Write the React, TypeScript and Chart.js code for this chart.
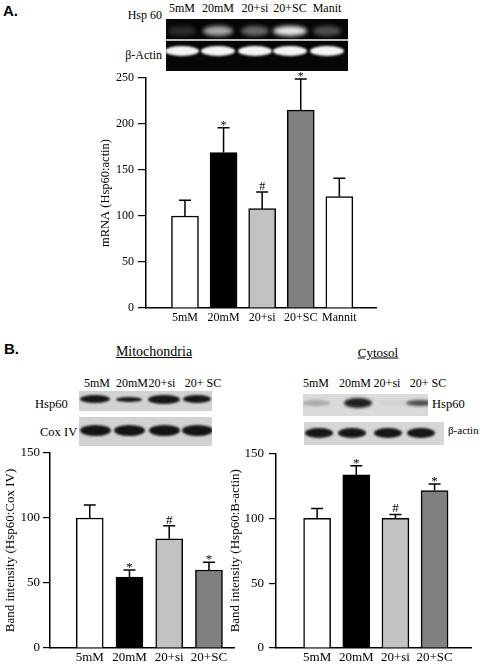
import React, { useEffect, useRef } from "react";
import { Chart, registerables } from "chart.js";
Chart.register(...registerables);

// ---------- data ----------
const CATS_A = ["5mM", "20mM", "20+si", "20+SC", "Mannit"];
const MEAN_A = [100, 169, 108, 215, 121];
const ERR_A = [117, 196, 126, 249, 141];
const MARK_A = ["", "*", "#", "*", ""];
const TICKS_A = [0, 50, 100, 150, 200, 250];

const CATS_B = ["5mM", "20mM", "20+si", "20+SC"];
const MEAN_MITO = [100, 54.5, 84, 60];
const ERR_MITO = [110, 60, 94, 66];
const MARK_MITO = ["", "*", "#", "*"];
const MEAN_CYTO = [100, 133.5, 100, 121.5];
const ERR_CYTO = [107.5, 140.5, 103, 126.5];
const MARK_CYTO = ["", "*", "#", "*"];
const TICKS_B = [0, 50, 100, 150];

const BLOT_A_LANES = ["5mM", "20mM", "20+si", "20+SC", "Manit"];
const BLOT_MITO_LANES = ["5mM", "20mM", "20+si", "20+ SC"];
const BLOT_CYTO_LANES = ["5mM", "20mM", "20+si", "20+ SC"];

const FILLS_A = ["#ffffff", "#000000", "#c2c2c2", "#808080", "#ffffff"];
const FILLS_B = ["#ffffff", "#000000", "#c2c2c2", "#808080"];

const SERIF = '"Liberation Serif", "Times New Roman", serif';
const SANS = '"Liberation Sans", Arial, sans-serif';

type PanelProps = {
  left: number; top: number; width: number; height: number;
  cats: string[]; means: number[]; errs: number[]; marks: string[]; fills: string[];
  yTicks: number[]; xMin: number; xMax: number; yTitle: string;
  padTop: number; padRight: number; yWidth: number; xHeight: number;
  tickFont: number; titleFont: number; tickLen: number; tickPad: number; xPad: number;
};

function BarPanel(p: PanelProps) {
  const ref = useRef<HTMLCanvasElement>(null);
  useEffect(() => {
    const errPlugin = {
      id: "errbars",
      afterDatasetsDraw(chart: any) {
        const c = chart.ctx;
        const meta = chart.getDatasetMeta(0);
        const ys = chart.scales.y;
        c.save();
        c.strokeStyle = "#000";
        c.lineWidth = 1.5;
        meta.data.forEach((bar: any, i: number) => {
          const x = bar.x;
          const y0 = bar.y;
          const y1 = ys.getPixelForValue(p.errs[i]);
          c.beginPath();
          c.moveTo(x, y0);
          c.lineTo(x, y1);
          c.moveTo(x - 6, y1);
          c.lineTo(x + 6, y1);
          c.stroke();
          const m = p.marks[i];
          if (m) {
            c.fillStyle = "#000";
            c.font = `${p.tickFont}px ${SERIF}`;
            c.textAlign = "center";
            c.textBaseline = "alphabetic";
            c.fillText(m, x, m === "*" ? y1 + 1 : y1 - 2);
          }
        });
        c.restore();
      },
    };
    const chart = new Chart(ref.current!, {
      type: "bar",
      data: {
        datasets: [
          {
            data: p.means.map((v, i) => ({ x: i, y: v })),
            backgroundColor: p.fills,
            borderColor: "#000",
            borderWidth: 1.5,
            barThickness: 27,
          } as any,
        ],
      },
      options: {
        animation: false,
        responsive: false,
        devicePixelRatio: 1,
        layout: { padding: { top: p.padTop, right: p.padRight, left: 0, bottom: 0 } },
        plugins: { legend: { display: false }, tooltip: { enabled: false } },
        scales: {
          x: {
            type: "linear",
            offset: false,
            min: p.xMin,
            max: p.xMax,
            grid: { display: false, drawTicks: false, offset: false },
            border: { display: true, color: "#000", width: 1.5 },
            afterBuildTicks: (s: any) => {
              s.ticks = p.cats.map((_, i) => ({ value: i }));
            },
            afterFit: (s: any) => {
              s.height = p.xHeight;
              s.paddingLeft = 0;
              s.paddingRight = 0;
            },
            ticks: {
              callback: (v: any) => p.cats[v] ?? "",
              color: "#000",
              font: { family: SERIF, size: p.tickFont },
              padding: p.xPad,
              maxRotation: 0,
              minRotation: 0,
              autoSkip: false,
            },
          },
          y: {
            min: 0,
            max: p.yTicks[p.yTicks.length - 1],
            afterBuildTicks: (s: any) => {
              s.ticks = p.yTicks.map((v) => ({ value: v }));
            },
            afterFit: (s: any) => {
              s.width = p.yWidth;
            },
            grid: { drawOnChartArea: false, drawTicks: true, tickLength: p.tickLen, color: "#000", lineWidth: 1.2 },
            border: { display: true, color: "#000", width: 1.5 },
            ticks: {
              color: "#000",
              font: { family: SERIF, size: p.tickFont },
              padding: p.tickPad,
            },
            title: {
              display: true,
              text: p.yTitle,
              color: "#000",
              font: { family: SERIF, size: p.titleFont },
              padding: 0,
            },
          },
        },
      } as any,
      plugins: [errPlugin],
    });
    return () => chart.destroy();
  }, []);
  return (
    <div style={{ position: "absolute", left: p.left, top: p.top, width: p.width, height: p.height }}>
      <canvas ref={ref} width={p.width} height={p.height} style={{ display: "block" }} />
    </div>
  );
}

function Txt(props: {
  x: number; y: number; text: string; size: number; align?: "left" | "center" | "right";
  bold?: boolean; family?: string; underline?: boolean;
}) {
  const a = props.align ?? "center";
  const tx = a === "center" ? "-50%" : a === "right" ? "-100%" : "0";
  return (
    <div
      style={{
        position: "absolute",
        left: props.x,
        top: props.y,
        transform: `translate(${tx}, -50%)`,
        fontFamily: props.family ?? SERIF,
        fontSize: props.size,
        fontWeight: props.bold ? "bold" : "normal",
        textDecoration: props.underline ? "underline" : "none",
        lineHeight: 1,
        whiteSpace: "nowrap",
        color: "#000",
      }}
    >
      {props.text}
    </div>
  );
}

type Band = { cx: number; cy: number; w: number; h: number; color: string; blur: number };
function Blot(props: { left: number; top: number; width: number; height: number; bg: string; bands: Band[] }) {
  return (
    <div
      style={{
        position: "absolute",
        left: props.left,
        top: props.top,
        width: props.width,
        height: props.height,
        background: props.bg,
        overflow: "hidden",
      }}
    >
      {props.bands.map((b, i) => (
        <div
          key={i}
          style={{
            position: "absolute",
            left: b.cx - props.left - b.w / 2,
            top: b.cy - props.top - b.h / 2,
            width: b.w,
            height: b.h,
            borderRadius: "50%",
            background: b.color,
            filter: `blur(${b.blur}px)`,
          }}
        />
      ))}
    </div>
  );
}

export default function App() {
  // blot lane layout (decorative image stand-ins)
  const aLaneX = [182, 218, 255, 290, 327];
  const aHspCol = ["#2c2c2c", "#a8a8a8", "#6a6a6a", "#e6e6e6", "#505050"];
  const aHspW = [28, 30, 28, 34, 28];
  const mitoX = [95, 129, 164, 197];
  const mitoHspH = [8, 5, 9, 8];
  const mitoHspW = [30, 26, 32, 28];
  const cytoX = [316, 358, 393, 420];
  const cytoHspCol = ["#a8a8a8", "#1e1e1e", "#cfcfcf", "#4a4a4a"];
  const cytoHspH = [6, 10, 4, 6];
  const cytoActX = [319, 352, 388, 421];

  return (
    <div style={{ position: "absolute", left: 0, top: 0, width: 480, height: 664, background: "#fff", overflow: "hidden" }}>
      {/* Panel A */}
      <Txt x={3} y={10} text="A." size={15} bold family={SANS} align="left" />
      {BLOT_A_LANES.map((l, i) => (
        <Txt key={l} x={aLaneX[i]} y={8} text={l} size={12} />
      ))}
      <Txt x={162} y={15} text="Hsp 60" size={12} align="right" />
      <Txt x={162} y={55} text="β-Actin" size={12} align="right" />
      <Blot
        left={166}
        top={19}
        width={182}
        height={20}
        bg="#060606"
        bands={aLaneX.map((x, i) => ({ cx: x, cy: 31, w: aHspW[i], h: 10, color: aHspCol[i], blur: 2 }))}
      />
      <div style={{ position: "absolute", left: 166, top: 39, width: 182, height: 2, background: "#bbb" }} />
      <Blot
        left={166}
        top={41}
        width={182}
        height={30}
        bg="#060606"
        bands={aLaneX.map((x) => ({ cx: x, cy: 51, w: 34, h: 10, color: "#f4f4f4", blur: 1.2 }))}
      />
      <BarPanel
        left={98} top={60} width={290} height={270}
        cats={CATS_A} means={MEAN_A} errs={ERR_A} marks={MARK_A} fills={FILLS_A}
        yTicks={TICKS_A} xMin={-1.01} xMax={4.95} yTitle="mRNA (Hsp60:actin)"
        padTop={18} padRight={12} yWidth={48} xHeight={22}
        tickFont={12} titleFont={12.5} tickLen={8} tickPad={4} xPad={3}
      />

      {/* Panel B */}
      <Txt x={4} y={348} text="B." size={15} bold family={SANS} align="left" />
      <Txt x={154} y={352} text="Mitochondria" size={14} underline />
      <Txt x={378} y={352} text="Cytosol" size={13} underline />

      {BLOT_MITO_LANES.map((l, i) => (
        <Txt key={"m" + l} x={[97, 132, 162, 203][i]} y={383} text={l} size={12} />
      ))}
      <Txt x={35} y={404} text="Hsp60" size={12.5} align="left" />
      <Txt x={40} y={432} text="Cox IV" size={12.5} align="left" />
      <Blot
        left={79}
        top={391}
        width={133}
        height={20}
        bg="#d2d2d2"
        bands={mitoX.map((x, i) => ({ cx: x, cy: 399, w: mitoHspW[i], h: mitoHspH[i], color: "#161616", blur: 1.2 }))}
      />
      <Blot
        left={79}
        top={417}
        width={133}
        height={29}
        bg="#d2d2d2"
        bands={mitoX.map((x) => ({ cx: x, cy: 430, w: 31, h: 11, color: "#141414", blur: 1.2 }))}
      />

      {BLOT_CYTO_LANES.map((l, i) => (
        <Txt key={"c" + l} x={[316, 355, 387, 428][i]} y={383} text={l} size={12} />
      ))}
      <Txt x={432} y={404} text="Hsp60" size={12.5} align="left" />
      <Txt x={448} y={430} text="β-actin" size={11} align="left" />
      <Blot
        left={303}
        top={394}
        width={125}
        height={22}
        bg="#dadada"
        bands={cytoX.map((x, i) => ({ cx: x, cy: 403, w: 28, h: cytoHspH[i], color: cytoHspCol[i], blur: 1.5 }))}
      />
      <Blot
        left={304}
        top={422}
        width={140}
        height={23}
        bg="#d6d6d6"
        bands={cytoActX.map((x) => ({ cx: x, cy: 433, w: 28, h: 10, color: "#161616", blur: 1.2 }))}
      />

      <BarPanel
        left={3} top={440} width={240} height={224}
        cats={CATS_B} means={MEAN_MITO} errs={ERR_MITO} marks={MARK_MITO} fills={FILLS_B}
        yTicks={TICKS_B} xMin={-1.0} xMax={3.63} yTitle="Band intensity (Hsp60:Cox IV)"
        padTop={13} padRight={9} yWidth={47} xHeight={16}
        tickFont={13} titleFont={13} tickLen={7} tickPad={3} xPad={2}
      />
      <BarPanel
        left={228} top={440} width={252} height={224}
        cats={CATS_B} means={MEAN_CYTO} errs={ERR_CYTO} marks={MARK_CYTO} fills={FILLS_B}
        yTicks={TICKS_B} xMin={-1.05} xMax={3.93} yTitle="Band intensity (Hsp60:B-actin)"
        padTop={13.5} padRight={9} yWidth={48} xHeight={16}
        tickFont={13} titleFont={13} tickLen={7} tickPad={5} xPad={2}
      />
    </div>
  );
}
